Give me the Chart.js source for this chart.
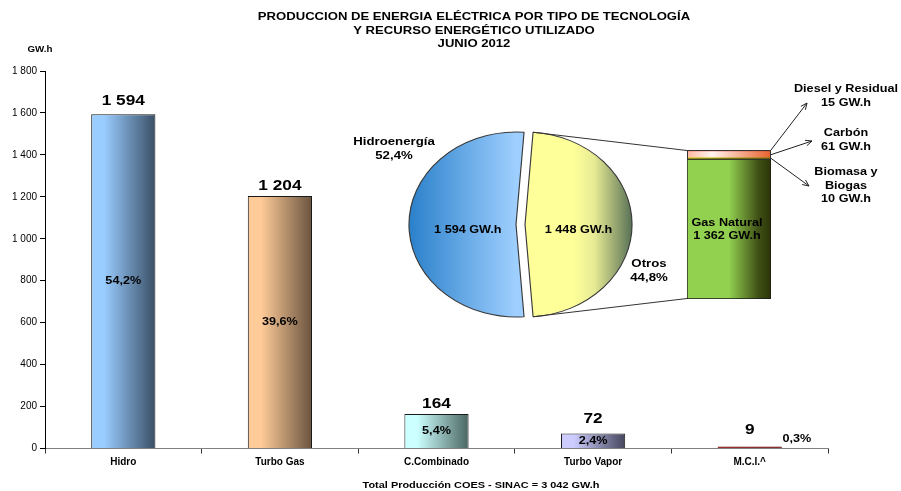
<!DOCTYPE html>
<html><head><meta charset="utf-8">
<script src="https://cdn.jsdelivr.net/npm/chart.js@4.4.1/dist/chart.umd.min.js"></script>
<style>
html,body{margin:0;padding:0;background:#fff;}
#wrap{position:relative;width:901px;height:491px;overflow:hidden;background:#fff;}
canvas{position:absolute;}
</style></head><body>
<div id="wrap">
<canvas id="main" width="901" height="491"></canvas>
<canvas id="pie" width="360" height="241"></canvas>
<canvas id="stack" width="381" height="260"></canvas>
</div>
<script>
// ---------------- DATA ----------------
const categories = ['Hidro', 'Turbo Gas', 'C.Combinado', 'Turbo Vapor', 'M.C.I.^'];
const production = [1594, 1204, 164, 72, 9];
const shareLabels = ['54,2%', '39,6%', '5,4%', '2,4%', '0,3%'];
const yTicks = [0, 200, 400, 600, 800, 1000, 1200, 1400, 1600, 1800];

const pieLabels = ['Hidroenergía', 'Otros'];
const pieValues = [1594, 1448];
const pieShares = ['52,4%', '44,8%'];

const otrosLabels = [['Gas Natural'], ['Biomasa y', 'Biogas'], ['Carbón'], ['Diesel y Residual']];
const otrosValues = [1362, 10, 61, 15];

const titleLines = ['PRODUCCION DE ENERGIA ELÉCTRICA POR TIPO DE TECNOLOGÍA', 'Y RECURSO ENERGÉTICO UTILIZADO', 'JUNIO 2012'];
const unitLabel = 'GW.h';
const footerText = 'Total Producción COES - SINAC = 3 042 GW.h';

// ---------------- STYLE ----------------
const FONT = "'Liberation Sans', Arial, sans-serif";
Chart.defaults.font.family = FONT;
Chart.defaults.color = '#000';
const STRETCH = 1.15;
const fmt = v => v >= 1000 ? Math.floor(v / 1000) + ' ' + String(v % 1000).padStart(3, '0') : String(v);

function txt(ctx, s, x, y, size, align) {
  ctx.save();
  ctx.font = `bold ${size}px ${FONT}`;
  ctx.fillStyle = '#000';
  ctx.textAlign = align || 'center';
  ctx.textBaseline = 'middle';
  ctx.translate(x, y);
  ctx.scale(STRETCH, 1);
  ctx.fillText(s, 0, 0);
  ctx.restore();
}

const barStops = [
  [[0, '#99CCFF'], [0.2, '#99CCFF'], [1, '#3A4F66']],
  [[0, '#FFCC99'], [0.2, '#FFCC99'], [1, '#6A533F']],
  [[0, '#CCFFFF'], [0.2, '#CCFFFF'], [1, '#4A6662']],
  [[0, '#CCCCFF'], [0.2, '#CCCCFF'], [1, '#46465E']],
  [[0, '#8A0000'], [1, '#6A0000']]
];
const barBorders = ['#1a1a1a', '#1a1a1a', '#1a1a1a', '#1a1a1a', '#5a0000'];
const valueOffsets = [13, 10, 10, 15, 17];

function barFill(c) {
  const chart = c.chart;
  if (!chart.chartArea || !chart.scales.x) return barStops[c.dataIndex][0][1];
  const xs = chart.scales.x;
  const cx = xs.getPixelForValue(c.dataIndex);
  const w = xs.width / categories.length * 0.41;
  const g = chart.ctx.createLinearGradient(cx - w / 2, 0, cx + w / 2, 0);
  barStops[c.dataIndex].forEach(s => g.addColorStop(s[0], s[1]));
  return g;
}

// ---------------- MAIN BAR CHART ----------------
const mainLabels = {
  id: 'mainLabels',
  afterDraw(chart) {
    const ctx = chart.ctx;
    const meta = chart.getDatasetMeta(0);
    meta.data.forEach((bar, i) => {
      txt(ctx, fmt(production[i]), bar.x, bar.y - valueOffsets[i], 15);
      if (i < categories.length - 1) {
        txt(ctx, shareLabels[i], bar.x, (bar.y + bar.base) / 2, 11);
      } else {
        txt(ctx, shareLabels[i], bar.x + bar.width / 2 + 15, bar.y - 8, 11);
      }
    });
    titleLines.forEach((l, i) => txt(ctx, l, 474, 17 + i * 13.5, 11.4));
    txt(ctx, unitLabel, 40, 50, 8.5);
    txt(ctx, footerText, 481, 485, 9.5);
  }
};

const mainChart = new Chart(document.getElementById('main'), {
  type: 'bar',
  data: {
    labels: categories,
    datasets: [{
      data: production,
      backgroundColor: barFill,
      borderColor: barBorders,
      borderWidth: 1,
      categoryPercentage: 1,
      barPercentage: 0.41
    }]
  },
  options: {
    responsive: false,
    animation: false,
    layout: { padding: { left: 0, right: 73, top: 71, bottom: 0 } },
    plugins: { legend: { display: false }, tooltip: { enabled: false }, title: { display: false } },
    scales: {
      x: {
        grid: { display: true, drawOnChartArea: false, drawTicks: true, tickLength: 5, color: '#333', offset: true },
        border: { color: '#808080', width: 1 },
        ticks: { font: { size: 10, weight: 'bold' }, color: '#000', padding: 3 },
        afterFit(s) { s.height = 42.5; }
      },
      y: {
        min: 0, max: 1800,
        afterBuildTicks(s) { s.ticks = yTicks.map(v => ({ value: v })); },
        grid: { display: true, drawOnChartArea: false, drawTicks: true, tickLength: 5, color: '#000' },
        border: { color: '#000', width: 1 },
        ticks: { font: { size: 10 }, color: '#000', padding: 3, callback: v => fmt(v) },
        afterFit(s) { s.width = 45; }
      }
    }
  },
  plugins: [mainLabels]
});

// ---------------- PIE (elliptical, exploded) ----------------
const PIE_POS = [336, 104];
const PIE_R = 92.5;
const SX = 1.157;
const EXPLODE = [0, 7.8];
const pieTotal = pieValues.reduce((a, b) => a + b, 0);
const pieRotation = 270 - (pieValues[0] / pieTotal * 360) / 2;
const pieStops = [
  [[0, '#2A80CA'], [1, '#9ECFFF']],
  [[0, '#FFFF99'], [0.45, '#FFFF99'], [0.65, '#E6EA94'], [1, '#587156']]
];
const pieCanvas = document.getElementById('pie');
pieCanvas.style.left = PIE_POS[0] + 'px';
pieCanvas.style.top = PIE_POS[1] + 'px';

function pieFill(c) {
  const chart = c.chart;
  const a = chart.chartArea;
  if (!a) return pieStops[c.dataIndex][0][1];
  const cx = (a.left + a.right) / 2;
  const g = c.dataIndex === 0
    ? chart.ctx.createLinearGradient(cx - PIE_R, 0, cx, 0)
    : chart.ctx.createLinearGradient(cx, 0, cx + PIE_R, 0);
  pieStops[c.dataIndex].forEach(s => g.addColorStop(s[0], s[1]));
  return g;
}

function piePoint(arc, i, angle, rf) {
  const mid = (arc.startAngle + arc.endAngle) / 2;
  return {
    x: arc.x + SX * (Math.cos(angle) * arc.outerRadius * rf + Math.cos(mid) * EXPLODE[i]),
    y: arc.y + Math.sin(angle) * arc.outerRadius * rf + Math.sin(mid) * EXPLODE[i]
  };
}

const pieValueFactor = [0.45, 0.5];
const pieNameOffsets = [[-122, -82.5], [133, 39.5]];

const ellipsePlugin = {
  id: 'ellipse',
  beforeDatasetsDraw(chart) {
    const ctx = chart.ctx;
    chart.getDatasetMeta(0).data.forEach((arc, i) => {
      const mid = (arc.startAngle + arc.endAngle) / 2;
      ctx.save();
      ctx.translate(arc.x, arc.y);
      ctx.scale(SX, 1);
      ctx.translate(-arc.x, -arc.y);
      ctx.translate(Math.cos(mid) * EXPLODE[i], Math.sin(mid) * EXPLODE[i]);
      arc.draw(ctx);
      ctx.restore();
    });
    return false;
  },
  afterDraw(chart) {
    const ctx = chart.ctx;
    chart.getDatasetMeta(0).data.forEach((arc, i) => {
      const mid = (arc.startAngle + arc.endAngle) / 2;
      const p = piePoint(arc, i, mid, pieValueFactor[i]);
      txt(ctx, fmt(pieValues[i]) + ' GW.h', p.x, arc.y + 5, 11);
      const nx = arc.x + pieNameOffsets[i][0], ny = arc.y + pieNameOffsets[i][1];
      txt(ctx, pieLabels[i], nx, ny, 11.5);
      txt(ctx, pieShares[i], nx, ny + 13.5, 11.5);
    });
  }
};

const pieChart = new Chart(pieCanvas, {
  type: 'pie',
  data: {
    labels: pieLabels,
    datasets: [{ data: pieValues, backgroundColor: pieFill, borderColor: '#3a3a3a', borderWidth: 1 }]
  },
  options: {
    responsive: false,
    animation: false,
    radius: PIE_R,
    rotation: pieRotation,
    layout: { padding: 0 },
    plugins: { legend: { display: false }, tooltip: { enabled: false } }
  },
  plugins: [ellipsePlugin]
});

// ---------------- STACKED BAR (breakdown of "Otros") ----------------
const STACK_POS = [520, 70];
const stackCanvas = document.getElementById('stack');
stackCanvas.style.left = STACK_POS[0] + 'px';
stackCanvas.style.top = STACK_POS[1] + 'px';
const otrosTotal = otrosValues.reduce((a, b) => a + b, 0);
const stackStops = [
  [[0, '#92D050'], [0.5, '#92D050'], [0.85, '#3F5015'], [1, '#2C3508']],
  [[0, '#D6D200'], [1, '#7A7A00']],
  [[0, '#FFB8A0'], [0.3, '#FFF4EE'], [1, '#E8602C']],
  [[0, '#E00000'], [1, '#A00000']]
];
function stackFill(c) {
  const chart = c.chart;
  const a = chart.chartArea;
  if (!a) return stackStops[c.datasetIndex][0][1];
  const g = chart.ctx.createLinearGradient(a.left, 0, a.right, 0);
  stackStops[c.datasetIndex].forEach(s => g.addColorStop(s[0], s[1]));
  return g;
}

// callout geometry (page coordinates): arrow end, first text line y
const callouts = [
  null,
  { end: [809, 186], textY: 172, from: 'mid' },
  { end: [812, 141], textY: 133, from: 'mid' },
  { end: [807, 103], textY: 89, from: 'top' }
];
const CALLOUT_TEXT_X = 846;

function arrow(ctx, x0, y0, x1, y1) {
  ctx.beginPath();
  ctx.moveTo(x0, y0); ctx.lineTo(x1, y1);
  const a = Math.atan2(y1 - y0, x1 - x0), L = 7, w = 0.42;
  ctx.moveTo(x1 - L * Math.cos(a - w), y1 - L * Math.sin(a - w));
  ctx.lineTo(x1, y1);
  ctx.lineTo(x1 - L * Math.cos(a + w), y1 - L * Math.sin(a + w));
  ctx.stroke();
}

const calloutPlugin = {
  id: 'callouts',
  afterDraw(chart) {
    const ctx = chart.ctx;
    const els = otrosValues.map((_, i) => chart.getDatasetMeta(i).data[0]);
    const gas = els[0], top = els[els.length - 1];
    const left = gas.x - gas.width / 2, right = gas.x + gas.width / 2;
    const ox = STACK_POS[0], oy = STACK_POS[1];

    ctx.save();
    ctx.strokeStyle = '#333';
    ctx.lineWidth = 1;
    ctx.strokeRect(left + 0.5, top.y + 0.5, right - left - 1, gas.y - top.y);

    const arc = pieChart.getDatasetMeta(0).data[1];
    const dx = PIE_POS[0] - ox, dy = PIE_POS[1] - oy;
    const pS = piePoint(arc, 1, arc.startAngle, 1);
    const pE = piePoint(arc, 1, arc.endAngle, 1);
    ctx.beginPath();
    ctx.moveTo(pS.x + dx, pS.y + dy); ctx.lineTo(left, top.y + 0.5);
    ctx.moveTo(pE.x + dx, pE.y + dy); ctx.lineTo(left, gas.base - 0.5);
    ctx.stroke();

    ctx.strokeStyle = '#222';
    callouts.forEach((c, i) => {
      if (!c) return;
      const el = els[i];
      const sy = c.from === 'top' ? el.y : (el.y + el.base) / 2;
      arrow(ctx, right, sy, c.end[0] - ox, c.end[1] - oy);
      const lines = otrosLabels[i].concat([otrosValues[i] + ' GW.h']);
      lines.forEach((l, k) => txt(ctx, l, CALLOUT_TEXT_X - ox, c.textY - oy + k * 13.5, 11));
    });
    ctx.restore();

    const gm = (gas.y + gas.base) / 2;
    txt(ctx, otrosLabels[0][0], gas.x - 2, gm - 6, 11);
    txt(ctx, fmt(otrosValues[0]) + ' GW.h', gas.x - 2, gm + 7, 11);
  }
};

new Chart(stackCanvas, {
  type: 'bar',
  data: {
    labels: ['Otros'],
    datasets: otrosValues.map((v, i) => ({
      label: otrosLabels[i].join(' '),
      data: [v],
      backgroundColor: stackFill,
      borderColor: '#1a1a1a',
      borderWidth: i === 0 ? 1 : 0,
      borderSkipped: false,
      barPercentage: 1,
      categoryPercentage: 1
    }))
  },
  options: {
    responsive: false,
    animation: false,
    layout: { padding: { left: 167, right: 130, top: 80, bottom: 31 } },
    scales: {
      x: { display: false, stacked: true },
      y: { display: false, stacked: true, min: 0, max: otrosTotal }
    },
    plugins: { legend: { display: false }, tooltip: { enabled: false } }
  },
  plugins: [calloutPlugin]
});
</script>
</body></html>
